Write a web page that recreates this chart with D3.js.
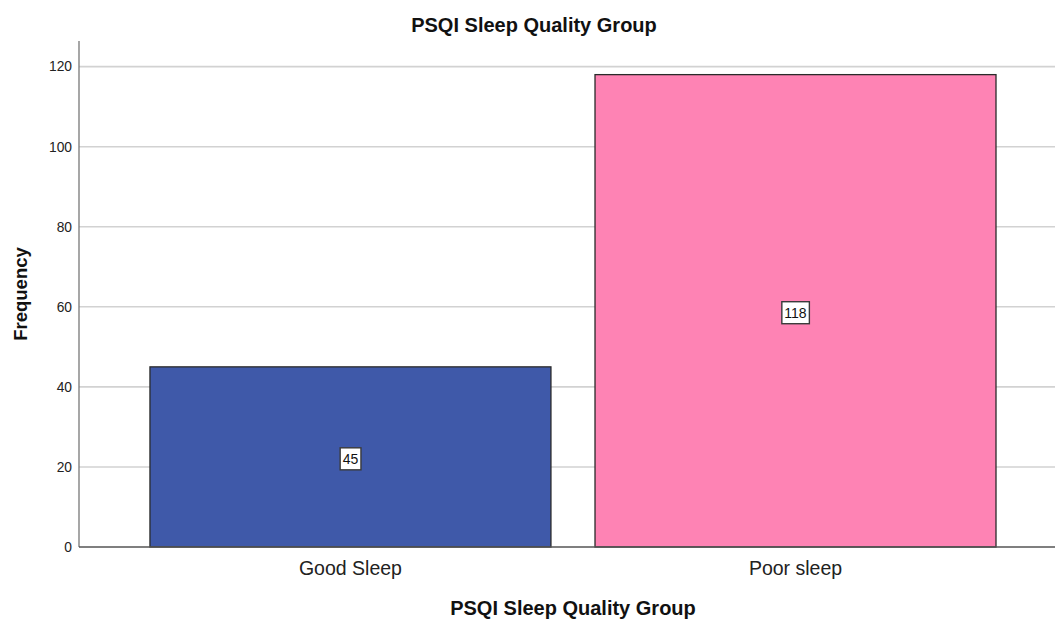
<!DOCTYPE html>
<html>
<head>
<meta charset="utf-8">
<script src="https://cdn.jsdelivr.net/npm/d3@7"></script>
<style>
  body { margin: 0; background: #fff; }
  text { font-family: "Liberation Sans", Arial, sans-serif; }
</style>
</head>
<body>
<svg id="chart" width="1055" height="621"></svg>
<script>
var categories = ["Good Sleep", "Poor sleep"];
var counts = [45, 118];
var colors = ["#3f59a9", "#fe83b4"];
var yTicks = [0, 20, 40, 60, 80, 100, 120];

var svg = d3.select("#chart");
var plotLeft = 79, plotRight = 1055, plotTop = 41, plotBottom = 547;

var x = d3.scaleBand()
    .domain(categories)
    .range([plotLeft, plotRight])
    .paddingInner(0.099)
    .paddingOuter(0.146)
    .align(0.546);

var y = d3.scaleLinear()
    .domain([0, 126.4])
    .range([plotBottom, plotTop]);

// gridlines
svg.append("g").selectAll("line")
    .data(yTicks.filter(function(d) { return d > 0; }))
    .enter().append("line")
    .attr("x1", plotLeft).attr("x2", plotRight)
    .attr("y1", function(d) { return y(d); })
    .attr("y2", function(d) { return y(d); })
    .attr("stroke", "#d2d2d2")
    .attr("stroke-width", 1.6);

// tick labels
svg.append("g").selectAll("text")
    .data(yTicks)
    .enter().append("text")
    .attr("x", plotLeft - 7)
    .attr("y", function(d) { return y(d); })
    .attr("dy", "0.35em")
    .attr("text-anchor", "end")
    .attr("font-size", 13.8)
    .attr("fill", "#222")
    .text(function(d) { return d; });

// bars
var bars = svg.append("g").selectAll("g")
    .data(categories)
    .enter().append("g");

bars.append("rect")
    .attr("x", function(d) { return x(d); })
    .attr("width", x.bandwidth())
    .attr("y", function(d, i) { return y(counts[i]); })
    .attr("height", function(d, i) { return y(0) - y(counts[i]); })
    .attr("fill", function(d, i) { return colors[i]; })
    .attr("stroke", "#2a2a2a")
    .attr("stroke-width", 1.3);

// value labels
bars.each(function(d, i) {
    var g = d3.select(this);
    var cx = x(d) + x.bandwidth() / 2;
    var cy = y(counts[i] / 2) + 2;
    var t = g.append("text")
        .attr("x", cx).attr("y", cy)
        .attr("dy", "0.35em")
        .attr("text-anchor", "middle")
        .attr("font-size", 14)
        .attr("fill", "#111")
        .text(counts[i]);
    var bb = t.node().getBBox();
    g.insert("rect", "text")
        .attr("x", bb.x - 2.5).attr("y", bb.y - 3)
        .attr("width", bb.width + 5).attr("height", bb.height + 6)
        .attr("fill", "#fff")
        .attr("stroke", "#3a3a3a")
        .attr("stroke-width", 1.4);
});

// axes lines
svg.append("line")
    .attr("x1", plotLeft).attr("x2", plotLeft)
    .attr("y1", plotTop).attr("y2", plotBottom)
    .attr("stroke", "#777").attr("stroke-width", 1.3);
svg.append("line")
    .attr("x1", plotLeft).attr("x2", plotRight)
    .attr("y1", plotBottom).attr("y2", plotBottom)
    .attr("stroke", "#555").attr("stroke-width", 1.3);

// category labels
svg.append("g").selectAll("text")
    .data(categories)
    .enter().append("text")
    .attr("x", function(d) { return x(d) + x.bandwidth() / 2; })
    .attr("y", 575)
    .attr("text-anchor", "middle")
    .attr("font-size", 19.5)
    .attr("fill", "#222")
    .text(function(d) { return d; });

// titles
svg.append("text")
    .attr("x", 534).attr("y", 32)
    .attr("text-anchor", "middle")
    .attr("font-size", 20).attr("font-weight", "bold")
    .attr("fill", "#111")
    .text("PSQI Sleep Quality Group");

svg.append("text")
    .attr("x", 573).attr("y", 615)
    .attr("text-anchor", "middle")
    .attr("font-size", 20).attr("font-weight", "bold")
    .attr("fill", "#111")
    .text("PSQI Sleep Quality Group");

svg.append("text")
    .attr("transform", "translate(27,294) rotate(-90)")
    .attr("text-anchor", "middle")
    .attr("font-size", 18.5).attr("font-weight", "bold")
    .attr("fill", "#111")
    .text("Frequency");
</script>
</body>
</html>
